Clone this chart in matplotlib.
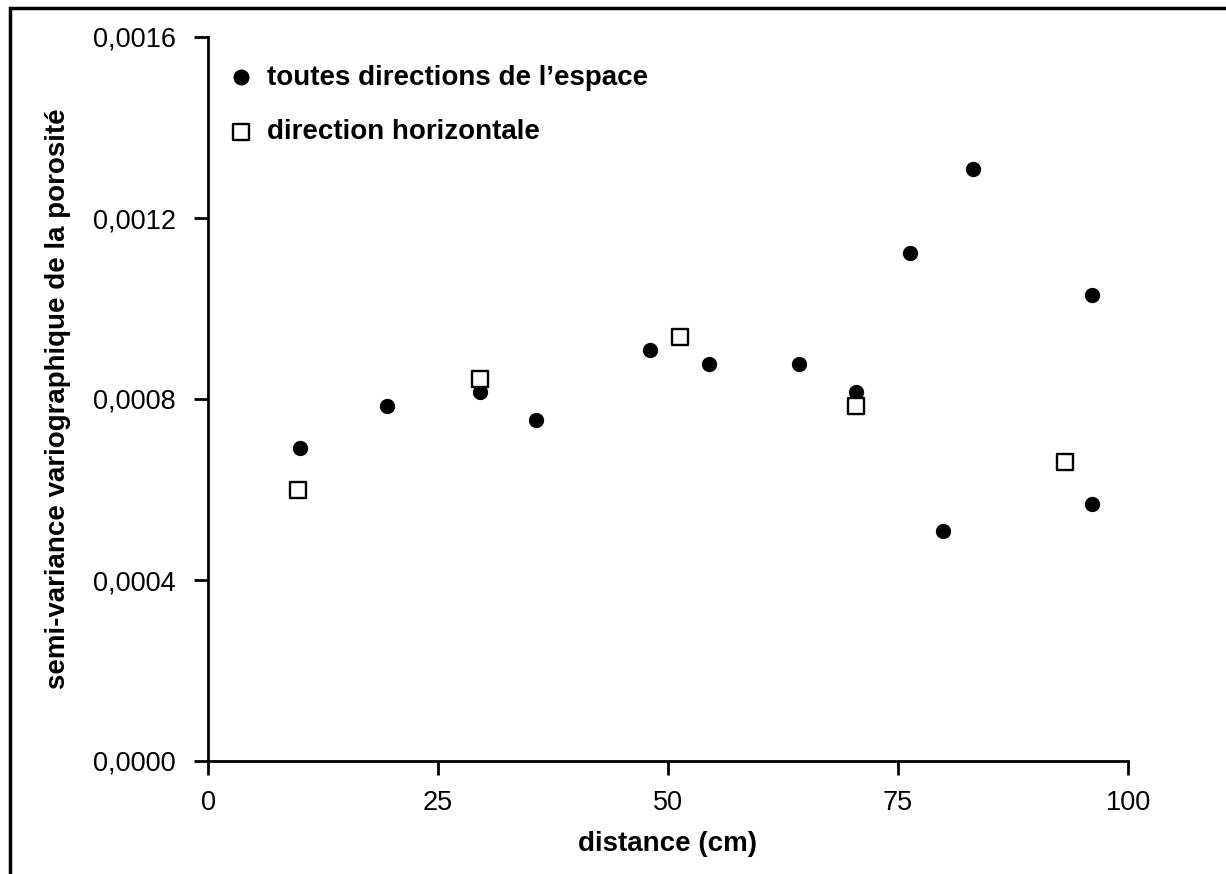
import matplotlib
matplotlib.use('Agg')
import matplotlib.pyplot as plt
from matplotlib.ticker import FuncFormatter
from matplotlib.patches import Rectangle

plt.rcParams['font.family'] = ['Liberation Sans', 'DejaVu Sans']

# toutes directions de l'espace
dist_all = [10, 19.5, 29.6, 35.7, 48.0, 54.5, 64.2, 70.4, 76.3, 79.9, 83.2, 96.1, 96.1]
gamma_all = [0.000692, 0.000785, 0.000815, 0.000754, 0.000908, 0.000877, 0.000877,
             0.000815, 0.001123, 0.000508, 0.001308, 0.00103, 0.000568]

# direction horizontale
dist_h = [9.8, 29.6, 51.3, 70.4, 93.2]
gamma_h = [0.000599, 0.000844, 0.000937, 0.000785, 0.000661]

xticks = [0, 25, 50, 75, 100]
yticks = [0, 0.0004, 0.0008, 0.0012, 0.0016]

fig = plt.figure(figsize=(12.26, 8.74), dpi=100)
ax = fig.add_axes([208 / 1226, 1 - 761 / 874, 920 / 1226, 724 / 874])

ax.scatter(dist_all, gamma_all, s=100, c='black', marker='o', zorder=3,
           label='toutes directions de l\u2019espace')
ax.scatter(dist_h, gamma_h, s=125, c='white', edgecolors='black', linewidths=1.7,
           marker='s', zorder=4, label='direction horizontale')

ax.set_xlim(0, 100)
ax.set_ylim(0, 0.0016)
ax.set_xticks(xticks)
ax.set_yticks(yticks)
ax.yaxis.set_major_formatter(FuncFormatter(lambda v, p: f'{v:.4f}'.replace('.', ',')))

for s in ['top', 'right']:
    ax.spines[s].set_visible(False)
for s in ['left', 'bottom']:
    ax.spines[s].set_linewidth(2)
ax.tick_params(direction='out', length=10, width=2, labelsize=19.5)
ax.tick_params(axis='x', pad=11)
ax.tick_params(axis='y', pad=13)

ax.set_xlabel('distance (cm)', fontsize=20, fontweight='bold', labelpad=11)
ax.set_ylabel('semi-variance variographique de la porosité', fontsize=20,
              fontweight='bold', labelpad=16)

ax.legend(loc='upper left', bbox_to_anchor=(0.0207, 0.962), frameon=False,
          prop={'size': 20, 'weight': 'bold'}, handlelength=1.0,
          handletextpad=0.45, labelspacing=1.03, borderpad=0, borderaxespad=0,
          markerscale=1.05)

# cadre autour de la figure
fig.patches.append(Rectangle((10 / 1226, -0.1), 1.2, 1 - 8 / 874 + 0.1,
                             transform=fig.transFigure, fill=False,
                             edgecolor='black', linewidth=2.5))

fig.savefig('out.png', dpi=100)
